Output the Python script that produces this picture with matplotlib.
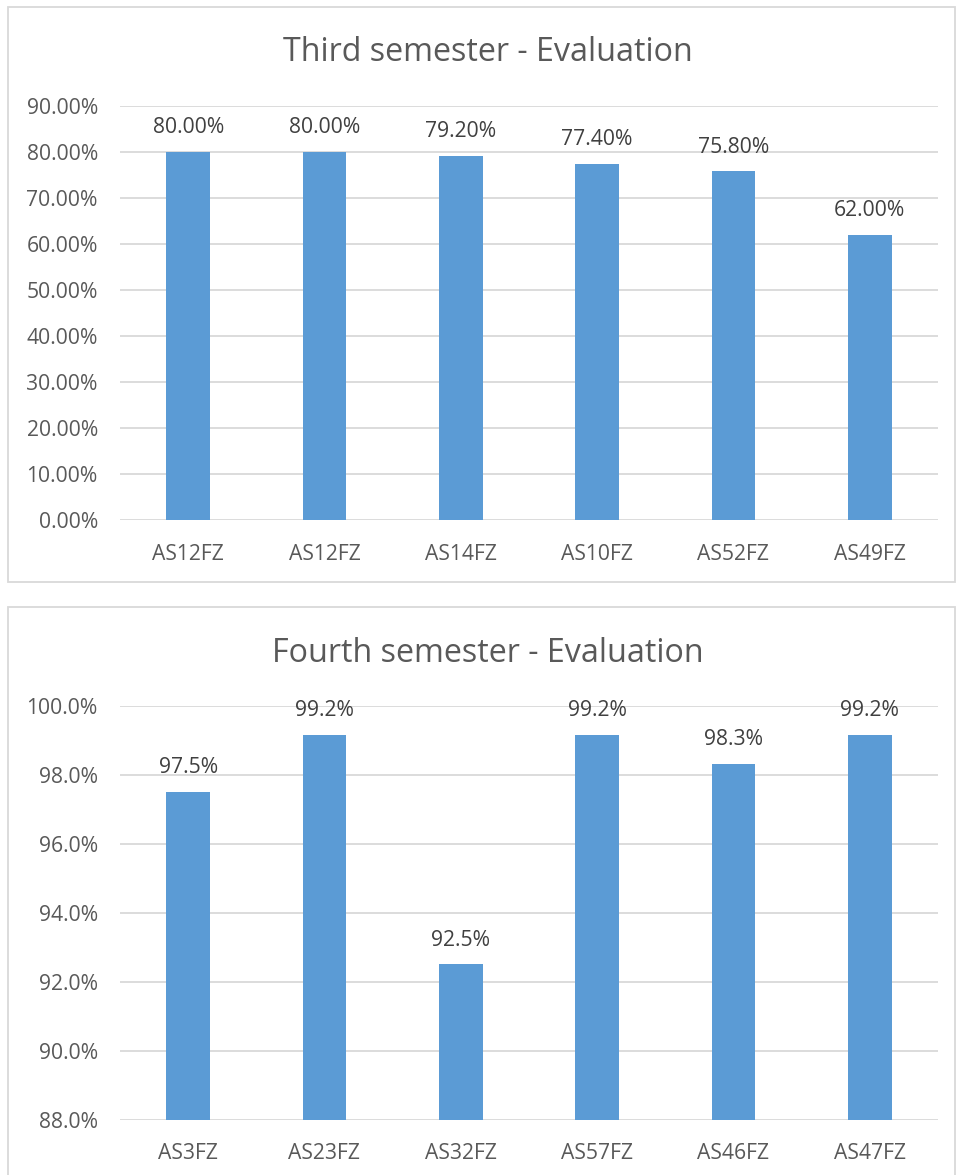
import matplotlib
matplotlib.use("Agg")
import matplotlib.pyplot as plt
from matplotlib.patches import Rectangle
from matplotlib.ticker import FuncFormatter, MultipleLocator

plt.rcParams['font.family'] = ['Open Sans', 'DejaVu Sans']

# Data
cats3 = ["AS12FZ", "AS12FZ", "AS14FZ", "AS10FZ", "AS52FZ", "AS49FZ"]
vals3 = [80.0, 80.0, 79.2, 77.4, 75.8, 62.0]
title3 = "Third semester - Evaluation"

cats4 = ["AS3FZ", "AS23FZ", "AS32FZ", "AS57FZ", "AS46FZ", "AS47FZ"]
vals4 = [97.5, 99.17, 92.5, 99.17, 98.33, 99.17]
title4 = "Fourth semester - Evaluation"

W, H = 956, 1175
fig = plt.figure(figsize=(W / 100, H / 100), dpi=100)

BAR = "#5B9BD5"
GRID = "#D9D9D9"
TICK = "#595959"
LABEL = "#404040"
FS = 15.2


def fx(px):
    return px / W


def fy(py):
    return 1 - py / H


# panel borders
for (x0, y0, x1, y1) in [(8, 7, 955, 582), (8, 607, 955, 1185)]:
    fig.patches.append(Rectangle((fx(x0), fy(y1)), fx(x1 - x0), (y1 - y0) / H,
                                 transform=fig.transFigure, fill=False,
                                 edgecolor=GRID, linewidth=1.3, zorder=0))


def panel(rect, cats, vals, ylim, step, fmt_tick, fmt_lab, title, title_y):
    ax = fig.add_axes(rect)
    x = list(range(len(cats)))
    ax.bar(x, vals, width=0.32, color=BAR, zorder=3)
    ax.set_xlim(-0.5, len(cats) - 0.5)
    ax.set_ylim(*ylim)
    ax.yaxis.set_major_locator(MultipleLocator(step))
    ax.yaxis.set_major_formatter(FuncFormatter(lambda v, p: fmt_tick.format(v)))
    ax.set_xticks(x)
    ax.set_xticklabels(cats)
    ax.tick_params(axis='both', length=0, labelsize=FS, colors=TICK)
    ax.tick_params(axis='x', pad=17)
    ax.tick_params(axis='y', pad=16)
    for s in ax.spines.values():
        s.set_visible(False)
    ax.grid(axis='y', color=GRID, linewidth=1.3, zorder=0)
    ax.set_axisbelow(True)
    for xi, v in zip(x, vals):
        ax.annotate(fmt_lab.format(v), (xi, v), xytext=(0, 10),
                    textcoords='offset points', ha='center', va='bottom',
                    fontsize=FS, color=LABEL, zorder=4, annotation_clip=False)
    fig.text(fx(488), fy(title_y), title, ha='center', va='baseline',
             fontsize=23.2, color=TICK)
    return ax


panel([fx(120), fy(520.5), fx(938 - 120), (520.5 - 106) / H], cats3, vals3,
      (0, 90), 10, "{:.2f}%", "{:.2f}%", title3, 61)
panel([fx(120), fy(1119.5), fx(938 - 120), (1119.5 - 706) / H], cats4, vals4,
      (88, 100), 2, "{:.1f}%", "{:.1f}%", title4, 662)

fig.savefig("out.png", dpi=100)
